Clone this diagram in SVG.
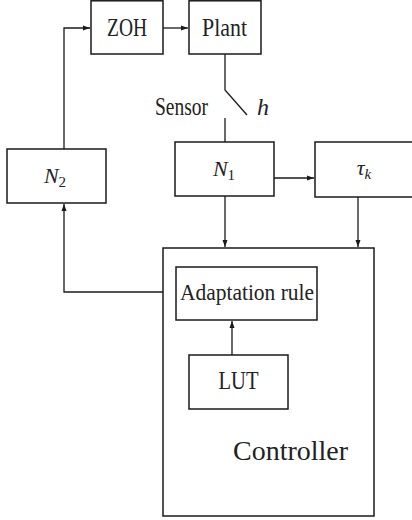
<svg xmlns="http://www.w3.org/2000/svg" width="412" height="520" viewBox="0 0 412 520">
<defs>
<marker id="arr" markerWidth="8" markerHeight="6" refX="7" refY="3" orient="auto" markerUnits="userSpaceOnUse">
<path d="M0,0.5 L7,3 L0,5.5 z" fill="#1a1a1a"/>
</marker>
<style>
.box{fill:none;stroke:#1a1a1a;stroke-width:1.5}
.ln{fill:none;stroke:#1a1a1a;stroke-width:1.3}
.t{fill:#222;text-anchor:middle;font-family:"Liberation Serif","DejaVu Serif",serif}
.m{font-style:italic}
</style>
</defs>
<rect width="412" height="520" fill="#fff"/>
<g id="zoh"><rect class="box" x="91" y="0.8" width="72" height="53.2"/><text class="t" x="127" y="36" font-size="26" textLength="40" lengthAdjust="spacingAndGlyphs">ZOH</text></g>
<g id="plant"><rect class="box" x="189" y="0.8" width="72" height="53.2"/><text class="t" x="224.5" y="36" font-size="26" textLength="45" lengthAdjust="spacingAndGlyphs">Plant</text></g>
<g id="n2"><rect class="box" x="7" y="149" width="99" height="54"/><text class="t m" x="55" y="183" font-size="22">N<tspan font-size="15" dy="4" font-style="normal">2</tspan></text></g>
<g id="n1"><rect class="box" x="175" y="142" width="99" height="54"/><text class="t m" x="224" y="176" font-size="22">N<tspan font-size="15" dy="4" font-style="normal">1</tspan></text></g>
<g id="tau"><rect class="box" x="315" y="142" width="100" height="55"/><text class="t m" x="364" y="175" font-size="22">τ<tspan font-size="15" dy="4">k</tspan></text></g>
<g id="controller"><rect class="box" x="163" y="248" width="211" height="268"/><text class="t" x="290.5" y="460" font-size="27" textLength="115" lengthAdjust="spacingAndGlyphs">Controller</text></g>
<g id="adapt"><rect class="box" x="176" y="267" width="141" height="53"/><text class="t" x="247" y="300" font-size="24" textLength="134" lengthAdjust="spacingAndGlyphs">Adaptation rule</text></g>
<g id="lut"><rect class="box" x="189" y="355" width="99" height="54"/><text class="t" x="238.5" y="389" font-size="25" textLength="40" lengthAdjust="spacingAndGlyphs">LUT</text></g>
<g id="sensor"><text class="t" x="181.5" y="115" font-size="25" textLength="53" lengthAdjust="spacingAndGlyphs">Sensor</text><text class="t m" x="263" y="115" font-size="24">h</text></g>
<g id="connectors">
<path class="ln" d="M64,149 V28 H90" marker-end="url(#arr)"/>
<path class="ln" d="M163,28 H188" marker-end="url(#arr)"/>
<path class="ln" d="M225,54 V90 L247,115"/>
<path class="ln" d="M225,118 V142"/>
<path class="ln" d="M274,178 H314" marker-end="url(#arr)"/>
<path class="ln" d="M225,196 V247" marker-end="url(#arr)"/>
<path class="ln" d="M358,197 V247" marker-end="url(#arr)"/>
<path class="ln" d="M163,292 H64 V204" marker-end="url(#arr)"/>
<path class="ln" d="M232,355 V321" marker-end="url(#arr)"/>
</g>
</svg>
